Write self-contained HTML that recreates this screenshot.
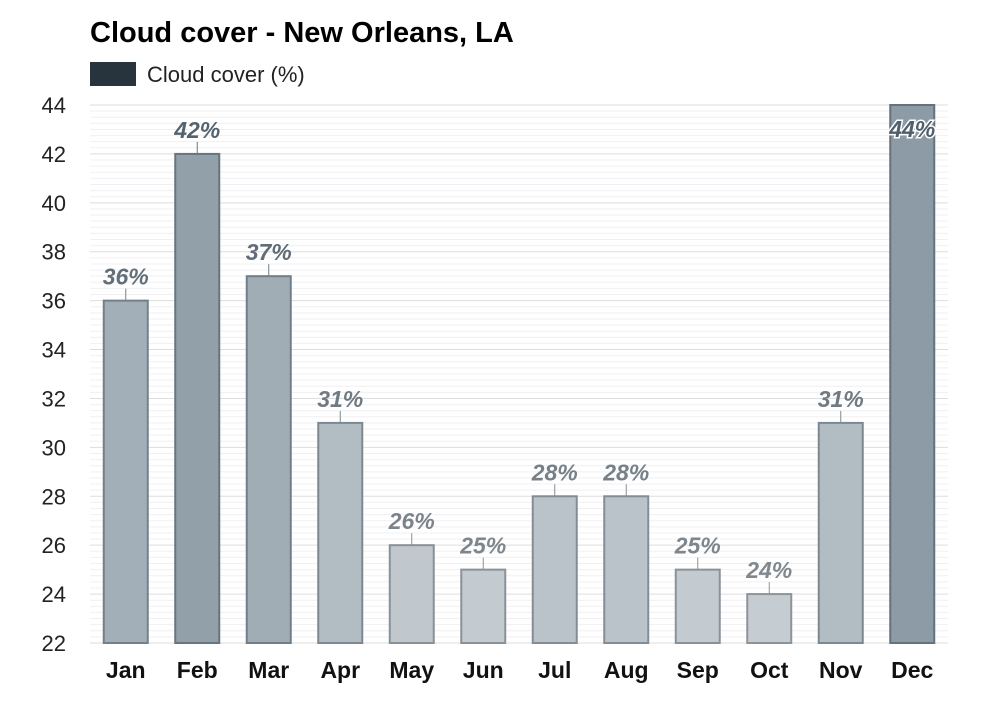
<!DOCTYPE html>
<html><head><meta charset="utf-8"><style>
body{margin:0;background:#fff;font-family:"Liberation Sans",Arial,sans-serif}
svg text{font-family:"Liberation Sans",Arial,sans-serif}
</style></head><body>
<svg id="c" width="1000" height="700">
<text x="90" y="42" font-size="29" font-weight="bold" fill="#000">Cloud cover - New Orleans, LA</text>
<rect x="90" y="62" width="46" height="24" fill="#27333d"/>
<text x="147" y="82" font-size="22" fill="#222">Cloud cover (%)</text>
<g id="grid"></g><g id="bars"></g>
</svg>
<script>
const months=["Jan","Feb","Mar","Apr","May","Jun","Jul","Aug","Sep","Oct","Nov","Dec"];
const cloud=[36,42,37,31,26,25,28,28,25,24,31,44];
const yTicks=[22,24,26,28,30,32,34,36,38,40,42,44];
const NS="http://www.w3.org/2000/svg";
const x0=90,x1=948,yMin=22,yMax=44,py0=643,py1=105;
const y=v=>py0-(v-yMin)/(yMax-yMin)*(py0-py1);
const band=(x1-x0)/months.length;
const xc=i=>x0+band*(i+0.5);
function mk(t,a,p){const e=document.createElementNS(NS,t);for(const k in a)e.setAttribute(k,a[k]);p.appendChild(e);return e;}
const g=document.getElementById('grid'),b=document.getElementById('bars');
for(let v=yMin;v<=yMax+1e-6;v+=0.25){
 const maj=Math.abs(v-Math.round(v/2)*2)<1e-6;
 const l=mk('line',{x1:x0,x2:x1,y1:y(v),y2:y(v),stroke:maj?'#ddd':'#f1eff3','stroke-width':1},g);
 
 
}
yTicks.forEach(v=>{
 const t=mk('text',{x:66,y:y(v)+8,'font-size':22,'text-anchor':'end',fill:'#222'},g);
 t.textContent=v;
 
 
});
function mix(a,c,f){return 'rgb('+a.map((v,i)=>Math.round(v+(c[i]-v)*f)).join(',')+')';}
cloud.forEach((v,i)=>{
 const f=(v-24)/20;
 const cx=xc(i),w=44;
 const top=v>=yMax;
 const r=mk('rect',{x:cx-w/2,y:y(v),width:w,height:py0-y(v),fill:mix([198,205,210],[140,155,166],f),stroke:mix([140,148,154],[100,114,124],f),'stroke-width':2},b);
 
 
 if(!top){
  const tk=mk('line',{x1:cx,x2:cx,y1:y(v)-12,y2:y(v),stroke:mix([140,148,154],[100,114,124],f)},b);
  
  
 }
 const ty=top?y(v)+32:y(v)-16;
 const lt=mk('text',{x:cx,y:ty,'font-size':23,'font-weight':'bold','font-style':'italic','text-anchor':'middle',fill:mix([128,136,143],[80,95,107],f),stroke:'#fff','stroke-width':top?3:0,'paint-order':'stroke'},b);
 lt.textContent=v+'%';
 
 
 const ml=mk('text',{x:cx,y:678,'font-size':23,'font-weight':'bold','text-anchor':'middle',fill:'#111'},b);
 ml.textContent=months[i];
 
 
});
</script>
</body></html>
